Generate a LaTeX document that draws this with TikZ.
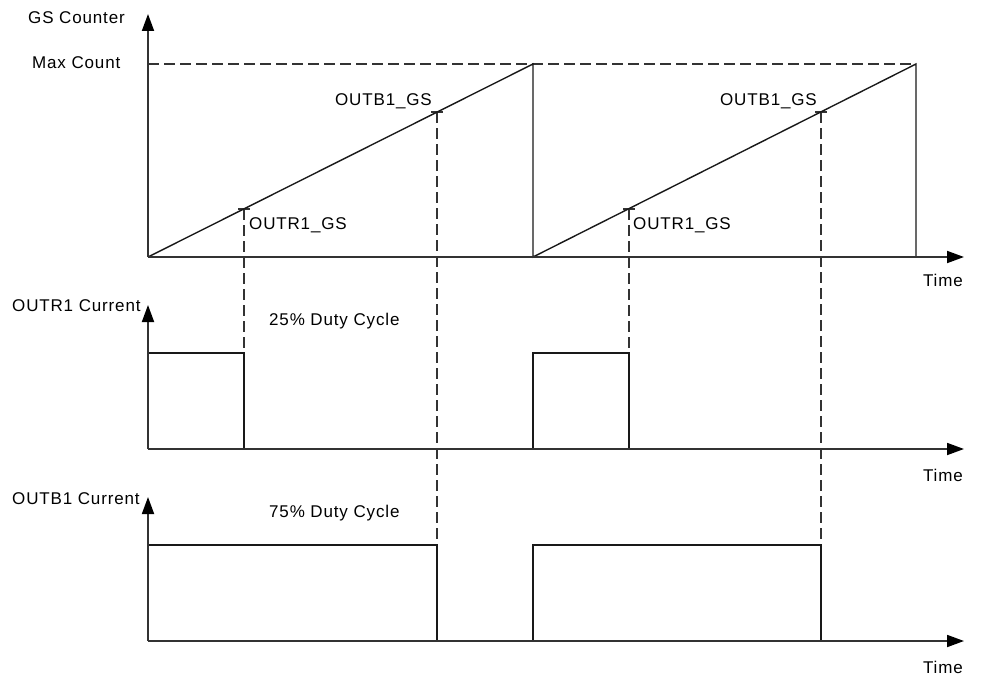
\documentclass[tikz,border=0pt]{standalone}
\usepackage{fontspec}
\setmainfont{Liberation Sans}[LetterSpace=5]
\usetikzlibrary{arrows.meta}
\begin{document}
\begin{tikzpicture}[x=1pt,y=-1pt,
  axisline/.style={line width=1.8pt, draw=black!80, -{Triangle[length=17pt,width=12pt,fill=black,color=black]}},
  sig/.style={line width=1.4pt, draw=black!90},
  guide/.style={line width=1.3pt, draw=black!80, dash pattern=on 11pt off 5pt},
  tick/.style={line width=1.2pt, draw=black!80},
  lbl/.style={font=\fontsize{17}{20}\selectfont, inner sep=0pt, text=black}]
\useasboundingbox (0,0) rectangle (987,677);
% key points
\coordinate (o1) at (148,257); \coordinate (y1) at (148,14); \coordinate (x1) at (964,257);
\coordinate (o2) at (148,449); \coordinate (y2) at (148,305); \coordinate (x2) at (964,449);
\coordinate (o3) at (148,641); \coordinate (y3) at (148,497); \coordinate (x3) at (964,641);
\coordinate (mc) at (148,64);
\coordinate (p1) at (533,64); \coordinate (b1) at (533,257);
\coordinate (p2) at (916,64); \coordinate (b2) at (916,257);
\coordinate (r1) at (244,209); \coordinate (g1) at (437,112);
\coordinate (r2) at (629,209); \coordinate (g2) at (821,112);
% pulses
\coordinate (ra) at (148,353); \coordinate (rb) at (244,353); \coordinate (rc) at (244,449);
\coordinate (rd) at (533,449); \coordinate (re) at (533,353); \coordinate (rf) at (629,353); \coordinate (rg) at (629,449);
\coordinate (ba) at (148,545); \coordinate (bb) at (437,545); \coordinate (bc) at (437,641);
\coordinate (bd) at (533,641); \coordinate (be) at (533,545); \coordinate (bf) at (821,545); \coordinate (bg) at (821,641);

% dashed guides
\draw[guide] (mc) -- (p2);
\draw[guide] (r1) -- (rb);
\draw[guide] (g1) -- (bb);
\draw[guide] (r2) -- (rf);
\draw[guide] (g2) -- (bf);

% ticks
\foreach \t in {r1,g1,r2,g2} \draw[tick] ([xshift=-6pt]\t) -- ([xshift=6pt]\t);

% sawtooth
\draw[sig] (o1) -- (p1) -- (b1) -- (p2) -- (b2);
% pulses
\draw[sig] (ra) -- (rb) -- (rc);
\draw[sig] (rd) -- (re) -- (rf) -- (rg);
\draw[sig] (ba) -- (bb) -- (bc);
\draw[sig] (bd) -- (be) -- (bf) -- (bg);

% axes
\draw[axisline] (o1) -- (y1);
\draw[axisline] (o1) -- (x1);
\draw[axisline] (o2) -- (y2);
\draw[axisline] (o2) -- (x2);
\draw[axisline] (o3) -- (y3);
\draw[axisline] (o3) -- (x3);

% labels
\node[lbl, anchor=base west] (lgs) at (28,23.5) {GS Counter};
\node[lbl, anchor=base west] (lmax) at (32,68.5) {Max Count};
\node[lbl, anchor=base west] (lr1) at (249,229.5) {OUTR1\_GS};
\node[lbl, anchor=base east] (lg1) at (432,105) {OUTB1\_GS};
\node[lbl, anchor=base west] (lr2) at (633,229.5) {OUTR1\_GS};
\node[lbl, anchor=base east] (lg2) at (817,105) {OUTB1\_GS};
\node[lbl, anchor=base east] (lt1) at (963,286) {Time};
\node[lbl, anchor=base west] (lc1) at (12,311) {OUTR1 Current};
\node[lbl, anchor=base west] (ld1) at (269,325) {25\% Duty Cycle};
\node[lbl, anchor=base east] (lt2) at (963,481) {Time};
\node[lbl, anchor=base west] (lc2) at (12,504) {OUTB1 Current};
\node[lbl, anchor=base west] (ld2) at (269,517.5) {75\% Duty Cycle};
\node[lbl, anchor=base east] (lt3) at (963,673) {Time};
\end{tikzpicture}
\end{document}
